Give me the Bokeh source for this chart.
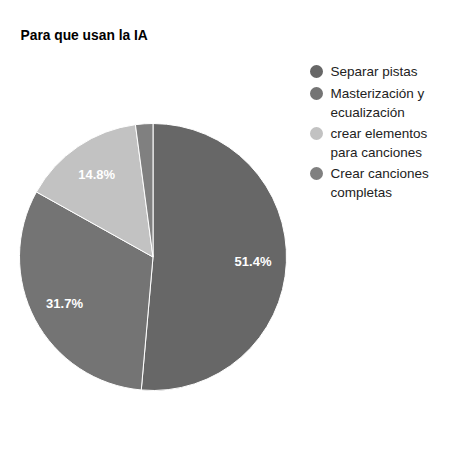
import numpy as np
from bokeh.plotting import figure
from bokeh.models import Range1d, ColumnDataSource
from bokeh.core.properties import value
from bokeh.embed import file_html
from bokeh.resources import INLINE

title = "Para que usan la IA"
categories = ["Separar pistas", "Masterización y\necualización", "crear elementos\npara canciones", "Crear canciones\ncompletas"]
values = [51.4, 31.7, 14.8, 2.1]
colors = ["#676767", "#747474", "#c2c2c2", "#808080"]

W, H = 435, 435
p = figure(width=W, height=H, output_backend="svg", toolbar_location=None,
           x_range=Range1d(0, W), y_range=Range1d(0, H), min_border=0)
p.axis.visible = False
p.grid.visible = False
p.outline_line_color = None
p.background_fill_color = "white"

def px(x):
    return x

def py(y):
    return H - y

cx, cy, r = px(152.5), py(256.5), 133.5
vals = np.array(values)
frac = vals / vals.sum()
cum = np.concatenate([[0], np.cumsum(frac)])
start = np.pi / 2 - 2 * np.pi * cum[:-1]
end = np.pi / 2 - 2 * np.pi * cum[1:]

src = ColumnDataSource(dict(start=start, end=end, color=colors))
p.wedge(x=cx, y=cy, radius=r, start_angle="start", end_angle="end", direction="clock",
        fill_color="color", line_color="white", line_width=1, source=src)

mid = (start + end) / 2
lx = cx + 0.75 * r * np.cos(mid)
ly = cy + 0.75 * r * np.sin(mid)
lab = [f"{v:.1f}%" for v in values]
keep = [i for i, f in enumerate(frac) if f >= 0.05]
p.text(x=[lx[i] for i in keep], y=[ly[i] for i in keep], text=[lab[i] for i in keep],
       text_color="white", text_font=value("Liberation Sans"), text_font_style="bold",
       text_font_size="13px", text_align="center", text_baseline="middle")

# title
p.text(x=[px(20)], y=[py(35)], text=[title], text_color="#000000",
       text_font=value("Liberation Sans"), text_font_style="bold", text_font_size="13.8px",
       text_align="left", text_baseline="middle")

# legend
item_y = [71, 93, 133, 173]
line_h = 18.5
p.scatter(x=[px(316)] * 4, y=[py(v) for v in item_y], size=13, marker="circle",
          fill_color=colors, line_color=None)
tx, ty, tt = [], [], []
for yy, cat in zip(item_y, categories):
    for k, line in enumerate(cat.split("\n")):
        tx.append(px(330))
        ty.append(py(yy + k * line_h))
        tt.append(line)
p.text(x=tx, y=ty, text=tt, text_color="#222222",
       text_font=value("Liberation Sans"), text_font_size="13.5px",
       text_align="left", text_baseline="middle")

open("out.html", "w").write(file_html(p, INLINE))
